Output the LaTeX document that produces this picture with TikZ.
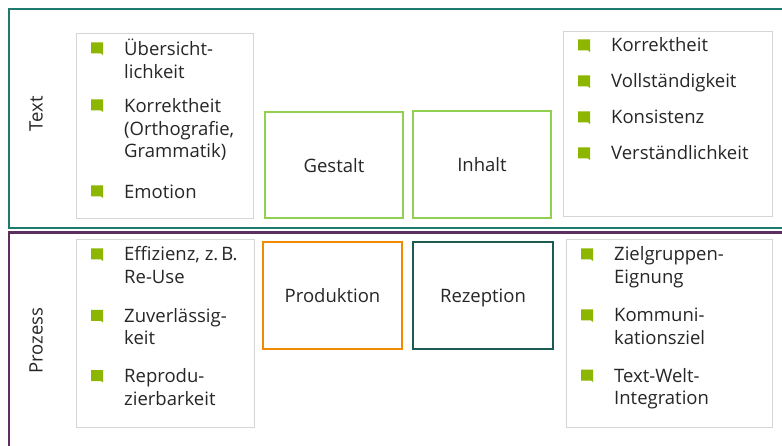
\documentclass[tikz,border=0pt]{standalone}
\usepackage{fontspec}
\setmainfont{Open Sans}
\definecolor{frameteal}{HTML}{1E7A6E}
\definecolor{framepurple}{HTML}{5E2F5E}
\definecolor{lightgreen}{HTML}{92D050}
\definecolor{orangeline}{HTML}{F08A00}
\definecolor{darkteal}{HTML}{1C5A52}
\definecolor{boxgray}{HTML}{D6D6D6}
\definecolor{bulletgreen}{HTML}{8DB600}
\definecolor{ink}{HTML}{262626}
% stacked lines with a fixed line pitch; the baseline is that of the first line
\newcommand\stacklines[1]{\vtop{\baselineskip=22.5pt\lineskiplimit=-10pt\halign{##\hfil\cr#1\crcr}}}
\tikzset{
  listbox/.style={draw=boxgray, line width=1pt},
  keybox/.style={line width=2pt, fill=white, font=\fontsize{18.5}{22.5}\selectfont,
                 text=ink, text height=15pt, text depth=0pt},
  rowlabel/.style={font=\fontsize{18.5}{22.5}\selectfont, text=ink, rotate=90},
  item/.style={font=\fontsize{18.5}{22.5}\selectfont, text=ink, inner sep=0pt, anchor=base west},
  pics/bullet/.style={code={
    \fill[bulletgreen] (-6,-5.5) -- (6,-5.5) -- (6,7) -- (4,5.5) -- (-6,5.5) -- cycle;
  }}
}
\begin{document}
\begin{tikzpicture}[x=1pt,y=-1pt]
\useasboundingbox (0,0) rectangle (782,446);
\fill[white] (0,0) rectangle (782,446);

% outer frames for the two rows
\draw[frameteal, line width=2.5pt] (782,9) -- (9,9) -- (9,228) -- (782,228);
\draw[framepurple, line width=2.5pt] (782,232.5) -- (9,232.5) -- (9,446);

% row labels
\node[rowlabel] (rowtext) at (36,114) {Text};
\node[rowlabel] (rowproc) at (36,340.5) {Prozess};

% list boxes
\draw[listbox] (76,34) rectangle (253,219);
\draw[listbox] (563,32) rectangle (772,217);
\draw[listbox] (76,240) rectangle (254,427);
\draw[listbox] (566,240) rectangle (772,427);

% central category boxes
\node[keybox, draw=lightgreen, minimum width=138pt, minimum height=106pt] (gestalt) at (334,165) {Gestalt};
\node[keybox, draw=lightgreen, minimum width=138pt, minimum height=107pt] (inhalt) at (482,164.5) {Inhalt};
\node[keybox, draw=orangeline, minimum width=139pt, minimum height=107pt] (produktion) at (332.5,295.5) {Produktion};
\node[keybox, draw=darkteal, minimum width=140pt, minimum height=107pt] (rezeption) at (483,295.5) {Rezeption};

% top left list
\pic at (97,48) {bullet};
\node[item] (tl1) at (124,56) {\stacklines{Übersicht-\cr lichkeit}};
\pic at (97,105) {bullet};
\node[item] (tl2) at (124,113) {\stacklines{Korrektheit\cr (Orthografie,\cr Grammatik)}};
\pic at (97,191) {bullet};
\node[item] (tl3) at (124,199) {Emotion};

% top right list
\pic at (584,45) {bullet};
\node[item] (tr1) at (611,52) {Korrektheit};
\pic at (584,81) {bullet};
\node[item] (tr2) at (611,88) {Vollständigkeit};
\pic at (584,117) {bullet};
\node[item] (tr3) at (611,124) {Konsistenz};
\pic at (584,153) {bullet};
\node[item] (tr4) at (611,160) {Verständlichkeit};

% bottom left list
\pic at (97,254) {bullet};
\node[item] (bl1) at (124,261) {\stacklines{Effizienz, z.\,B.\cr Re-Use}};
\pic at (97,315.5) {bullet};
\node[item] (bl2) at (124,322.5) {\stacklines{Zuverlässig-\cr keit}};
\pic at (97,375.5) {bullet};
\node[item] (bl3) at (124,382.5) {\stacklines{Reprodu-\cr zierbarkeit}};

% bottom right list
\pic at (587,254) {bullet};
\node[item] (br1) at (614,261) {\stacklines{Zielgruppen-\cr Eignung}};
\pic at (587,315) {bullet};
\node[item] (br2) at (614,322) {\stacklines{Kommuni-\cr kationsziel}};
\pic at (587,375) {bullet};
\node[item] (br3) at (614,382) {\stacklines{Text-Welt-\cr Integration}};
\end{tikzpicture}
\end{document}
